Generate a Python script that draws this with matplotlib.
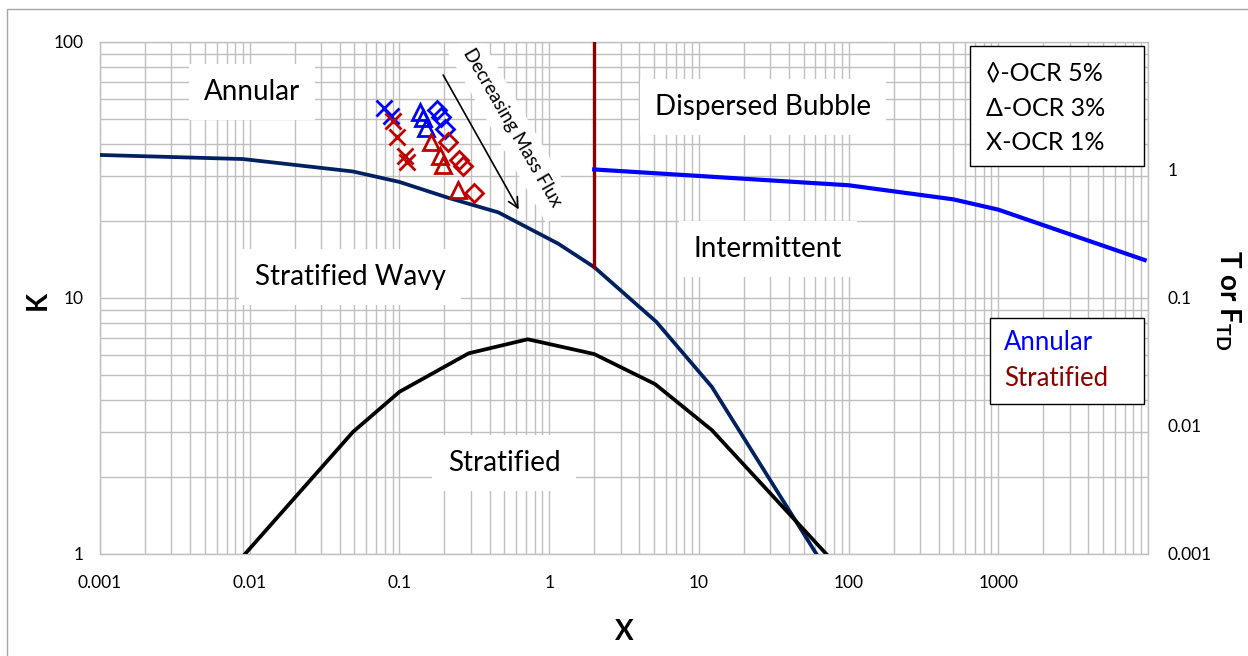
import matplotlib
matplotlib.use("Agg")
import matplotlib.pyplot as plt
from matplotlib.ticker import FixedLocator, FixedFormatter, LogLocator, NullFormatter
from matplotlib.patches import Rectangle

plt.rcParams['font.family'] = ['Lato', 'DejaVu Sans']
plt.rcParams['mathtext.fontset'] = 'custom'
plt.rcParams['mathtext.rm'] = 'Lato'
plt.rcParams['mathtext.bf'] = 'Lato:bold'

# ---------------- data ----------------
# transition boundary (left axis K)
navy_x = [0.001, 0.009, 0.049, 0.1, 0.218, 0.458, 1.15, 2, 5.2, 12.2, 61]
navy_k = [36.2, 34.9, 31.2, 28.4, 24.5, 21.6, 16.3, 13.2, 8.07, 4.5, 1.0]
# stratified boundary (left axis K)
black_x = [0.0093, 0.049, 0.1, 0.29, 0.72, 2, 5.1, 12.2, 71]
black_k = [1.0, 3.0, 4.3, 6.08, 6.9, 6.04, 4.61, 3.05, 1.0]
# dispersed bubble boundary (right axis T or F_TD)
blue_x = [2, 100, 500, 1000, 9500]
blue_t = [1.01, 0.76, 0.59, 0.49, 0.198]
# vertical boundary at X = 2
vline_x = 2
vline_k = [13.2, 100]

# measured points
x_blue_1 = [0.0783, 0.0879]
k_blue_1 = [55.0, 51.4]
x_red_1 = [0.0906, 0.0964, 0.109, 0.112]
k_red_1 = [49.1, 42.5, 35.9, 34.0]
x_blue_3 = [0.137, 0.144, 0.151]
k_blue_3 = [53.4, 50.5, 46.1]
x_red_3 = [0.1626, 0.1854, 0.1955, 0.248]
k_red_3 = [40.6, 35.9, 33.1, 26.4]
x_blue_5 = [0.1775, 0.190, 0.2017]
k_blue_5 = [54.2, 50.9, 45.7]
x_red_5 = [0.212, 0.250, 0.266, 0.315]
k_red_5 = [40.8, 34.6, 32.8, 25.8]

arrow_start = (0.192, 75.9)
arrow_end = (0.64, 21.7)

x_major = [0.001, 0.01, 0.1, 1, 10, 100, 1000, 10000]
x_labels = ['0.001', '0.01', '0.1', '1', '10', '100', '1000', '']
k_major = [1, 10, 100]
k_labels = ['1', '10', '100']
t_major = [0.001, 0.01, 0.1, 1, 10]
t_labels = ['0.001', '0.01', '0.1', '1', '']

region_labels = ['Annular', 'Dispersed Bubble', 'Stratified Wavy', 'Intermittent', 'Stratified']
legend1_lines = ['\u25CA-OCR 5%', '\u0394-OCR 3%', 'X-OCR 1%']
legend2_lines = ['Annular', 'Stratified']

# ---------------- figure ----------------
W, H = 1248, 656
fig = plt.figure(figsize=(W / 100, H / 100), dpi=100)
def fx(px):
    return px / W
def fy(py):
    return 1 - py / H

L, T, R, B = 100, 42, 1148, 554
ax = fig.add_axes([fx(L), fy(B), fx(R) - fx(L), fy(T) - fy(B)])
ax.set_xscale('log')
ax.set_yscale('log')
ax.set_xlim(0.001, 10000)
ax.set_ylim(1, 100)

grid_c = '#c0c0c0'
ax.xaxis.set_major_locator(FixedLocator(x_major))
ax.xaxis.set_major_formatter(FixedFormatter(x_labels))
ax.xaxis.set_minor_locator(LogLocator(base=10, subs=range(2, 10), numticks=20))
ax.xaxis.set_minor_formatter(NullFormatter())
ax.yaxis.set_major_locator(FixedLocator(k_major))
ax.yaxis.set_major_formatter(FixedFormatter(k_labels))
ax.yaxis.set_minor_locator(LogLocator(base=10, subs=range(2, 10), numticks=20))
ax.yaxis.set_minor_formatter(NullFormatter())
ax.set_axisbelow(True)
ax.grid(which='both', color=grid_c, lw=1.0)
for s in ax.spines.values():
    s.set_color(grid_c)
    s.set_linewidth(1.0)
ax.tick_params(which='both', length=0)
ax.tick_params(axis='x', pad=15, labelsize=12.5)
ax.tick_params(axis='y', pad=12, labelsize=12.5)

# curves
ax.plot(navy_x, navy_k, color='#002060', lw=2.7, zorder=3)
ax.plot(black_x, black_k, color='black', lw=2.7, zorder=3)
ax.plot([vline_x, vline_x], vline_k, color='#8B0000', lw=2.4, zorder=3)

mk = dict(ls='none', mfc='none', mew=2.0, zorder=4)
ax.plot(x_blue_1, k_blue_1, marker='x', ms=11, color='#0000FF', **mk)
ax.plot(x_red_1, k_red_1, marker='x', ms=11, color='#C00000', **mk)
ax.plot(x_blue_3, k_blue_3, marker='^', ms=11, color='#0000FF', **mk)
ax.plot(x_red_3, k_red_3, marker='^', ms=11, color='#C00000', **mk)
ax.plot(x_blue_5, k_blue_5, marker='D', ms=9, color='#0000FF', **mk)
ax.plot(x_red_5, k_red_5, marker='D', ms=9, color='#C00000', **mk)

ax.annotate('', xy=arrow_end, xytext=arrow_start,
            arrowprops=dict(arrowstyle='->', color='black', lw=1.2,
                            mutation_scale=18), zorder=5)

# right axis
ax2 = ax.twinx()
ax2.set_yscale('log')
ax2.set_ylim(0.001, 10)
ax2.yaxis.set_major_locator(FixedLocator(t_major))
ax2.yaxis.set_major_formatter(FixedFormatter(t_labels))
ax2.yaxis.set_minor_locator(LogLocator(base=10, subs=range(2, 10), numticks=20))
ax2.yaxis.set_minor_formatter(NullFormatter())
ax2.tick_params(which='both', length=0)
ax2.tick_params(axis='y', pad=14, labelsize=12.5)
for s in ax2.spines.values():
    s.set_visible(False)
ax2.plot(blue_x, blue_t, color='#0000FF', lw=3.0, zorder=3)

# region labels with white boxes
box = dict(boxstyle='square,pad=0.55', fc='white', ec='none')
label_pos = [(252, 92), (763, 107), (350, 277), (768, 249), (504, 463)]
for txt, (px, py) in zip(region_labels, label_pos):
    ax.text(fx(px), fy(py), txt, transform=fig.transFigure, fontsize=20,
            ha='center', va='center', bbox=box, zorder=1.5)

ax.text(fx(512), fy(128), 'Decreasing Mass Flux', transform=fig.transFigure,
        fontsize=13.5, rotation=-60, rotation_mode='anchor', ha='center', va='center',
        bbox=dict(boxstyle='square,pad=0.5', fc='white', ec='none'), zorder=1.5)

# legend boxes
fig.patches.append(Rectangle((fx(970), fy(166)), fx(1144) - fx(970), fy(46) - fy(166),
                             transform=fig.transFigure, fc='white', ec='black', lw=1.0, zorder=5))
for i, t in enumerate(legend1_lines):
    fig.text(fx(986), fy(73 + 35 * i), t, fontsize=18, ha='left', va='center', zorder=6)

fig.patches.append(Rectangle((fx(990), fy(404)), fx(1144) - fx(990), fy(318) - fy(404),
                             transform=fig.transFigure, fc='white', ec='black', lw=1.0, zorder=5))
fig.text(fx(1004), fy(343), legend2_lines[0], fontsize=18.5, color='#0000FF', ha='left', va='center', zorder=6)
fig.text(fx(1004), fy(378), legend2_lines[1], fontsize=18.5, color='#8B0000', ha='left', va='center', zorder=6)

# axis titles
fig.text(fx(38), fy(300), 'K', fontsize=20, fontweight='bold', rotation=90, ha='center', va='center')
fig.text(fx(624), fy(632), 'X', fontsize=20, fontweight='bold', ha='center', va='center')
fig.text(fx(1228), fy(300), r'T or F$_\mathbf{TD}$', fontsize=20, fontweight='bold',
         rotation=-90, ha='center', va='center')

# outer frame
fig.patches.append(Rectangle((fx(7), fy(1000)), fx(2000), fy(9) - fy(1000),
                             transform=fig.transFigure, fc='none', ec='#a6a6a6', lw=1.0))

fig.savefig('out.png', dpi=100)
